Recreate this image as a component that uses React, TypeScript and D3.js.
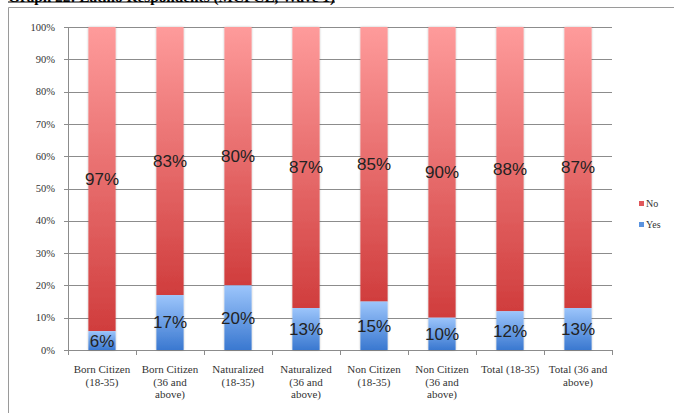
import React from "react";
import * as d3 from "d3";

// Chart data
const categoryLines: string[][] = [
  ["Born Citizen", "(18-35)"],
  ["Born Citizen", "(36 and", "above)"],
  ["Naturalized", "(18-35)"],
  ["Naturalized", "(36 and", "above)"],
  ["Non Citizen", "(18-35)"],
  ["Non Citizen", "(36 and", "above)"],
  ["Total (18-35)"],
  ["Total (36 and", "above)"],
];
const yesValues = [6, 17, 20, 13, 15, 10, 12, 13];
const noValues = [97, 83, 80, 87, 85, 90, 88, 87];
const yTicks = [0, 10, 20, 30, 40, 50, 60, 70, 80, 90, 100];
const legendItems = [
  { key: "No", color: "#e0575a" },
  { key: "Yes", color: "#5a93e0" },
];
const title = "Graph 22: Latino Respondents (MCPCL, Wave 1)";

const W = 674;
const H = 415;
const plot = { left: 68, right: 612, top: 27, bottom: 350 };

export default function App() {
  const x = d3
    .scaleBand<number>()
    .domain(d3.range(categoryLines.length))
    .range([plot.left, plot.right])
    .paddingInner(0.6)
    .paddingOuter(0.3);
  const y = d3.scaleLinear().domain([0, 100]).range([plot.bottom, plot.top]);
  const step = x.step();

  // 100% stacked: each bar is normalised by its own total
  const rows = yesValues.map((yes, i) => {
    const total = yes + noValues[i];
    const yesShare = (yes / total) * 100;
    return { i, yes, no: noValues[i], yesShare };
  });

  const serif = "'Liberation Serif', 'DejaVu Serif', serif";
  const sans = "'Liberation Sans', Arial, sans-serif";

  return (
    <svg
      width={W}
      height={H}
      style={{ position: "absolute", left: 0, top: 0, background: "#fff" }}
    >
      <defs>
        <linearGradient id="gradNo" x1="0" y1="0" x2="0" y2="1">
          <stop offset="0%" stopColor="#fe9b9b" />
          <stop offset="100%" stopColor="#d03d3d" />
        </linearGradient>
        <linearGradient id="gradYes" x1="0" y1="0" x2="0" y2="1">
          <stop offset="0%" stopColor="#9cc5fb" />
          <stop offset="100%" stopColor="#3a78d0" />
        </linearGradient>
        <filter id="barShadow" x="-20%" y="-5%" width="140%" height="110%">
          <feGaussianBlur in="SourceAlpha" stdDeviation="1.2" />
          <feOffset dx="0" dy="0" result="b" />
          <feComponentTransfer>
            <feFuncA type="linear" slope="0.25" />
          </feComponentTransfer>
          <feMerge>
            <feMergeNode />
            <feMergeNode in="SourceGraphic" />
          </feMerge>
        </filter>
      </defs>

      {/* title, partly clipped at the top edge */}
      <text
        x={8}
        y={2}
        fontFamily={serif}
        fontWeight="bold"
        fontSize={14.5}
        fill="#000"
        textLength={327}
        lengthAdjust="spacingAndGlyphs"
      >
        {title}
      </text>
      <line x1={8} x2={335} y1={2} y2={2} stroke="#000" strokeWidth={1.2} />

      {/* frame */}
      <line x1={8.5} x2={8.5} y1={7.5} y2={413} stroke="#9a9a9a" strokeWidth={1} />
      <line x1={8.5} x2={W} y1={7.5} y2={7.5} stroke="#9a9a9a" strokeWidth={1} />

      {/* gridlines and y axis labels */}
      {yTicks.map((t) => (
        <g key={t}>
          <line
            x1={plot.left - 4}
            x2={plot.right}
            y1={Math.round(y(t)) + 0.5}
            y2={Math.round(y(t)) + 0.5}
            stroke="#8c8c8c"
            strokeWidth={1}
          />
          <text
            x={55}
            y={y(t)}
            dy="0.35em"
            textAnchor="end"
            fontFamily={serif}
            fontSize={10.5}
            fill="#333"
          >
            {t}%
          </text>
        </g>
      ))}
      <line
        x1={plot.left + 0.5}
        x2={plot.left + 0.5}
        y1={plot.top}
        y2={plot.bottom}
        stroke="#8c8c8c"
      />

      {/* x axis ticks between categories */}
      {d3.range(categoryLines.length + 1).map((k) => {
        const xx = Math.round(plot.left + k * step) + 0.5;
        return (
          <line
            key={k}
            x1={xx}
            x2={xx}
            y1={plot.bottom}
            y2={plot.bottom + 5}
            stroke="#8c8c8c"
          />
        );
      })}

      {/* stacked bars */}
      {rows.map((r) => {
        const bx = x(r.i)!;
        const bw = x.bandwidth();
        const yTop = y(r.yesShare);
        return (
          <g key={r.i} filter="url(#barShadow)">
            <rect x={bx} y={y(100)} width={bw} height={yTop - y(100)} fill="url(#gradNo)" />
            <rect x={bx} y={yTop} width={bw} height={y(0) - yTop} fill="url(#gradYes)" />
          </g>
        );
      })}

      {/* value labels */}
      {rows.map((r) => {
        const cx = x(r.i)! + x.bandwidth() / 2;
        return (
          <g key={r.i} fontFamily={sans} fontSize={17} fill="#222" textAnchor="middle">
            <text x={cx} y={y((r.yesShare + 100) / 2)} dy="0.35em">
              {r.no}%
            </text>
            <text x={cx} y={y(r.yesShare / 2)} dy="0.35em">
              {r.yes}%
            </text>
          </g>
        );
      })}

      {/* category labels */}
      {categoryLines.map((lines, i) => {
        const cx = x(i)! + x.bandwidth() / 2;
        return (
          <text
            key={i}
            x={cx}
            y={373}
            textAnchor="middle"
            fontFamily={serif}
            fontSize={11}
            fill="#333"
          >
            {lines.map((ln, j) => (
              <tspan key={j} x={cx} dy={j === 0 ? 0 : 12.5}>
                {ln}
              </tspan>
            ))}
          </text>
        );
      })}

      {/* legend */}
      {legendItems.map((it, k) => (
        <g key={it.key} transform={`translate(639, ${201 + k * 21})`}>
          <rect x={0} y={0} width={5} height={5} fill={it.color} />
          <text x={7} y={6} fontFamily={serif} fontSize={10} fill="#333">
            {it.key}
          </text>
        </g>
      ))}
    </svg>
  );
}
